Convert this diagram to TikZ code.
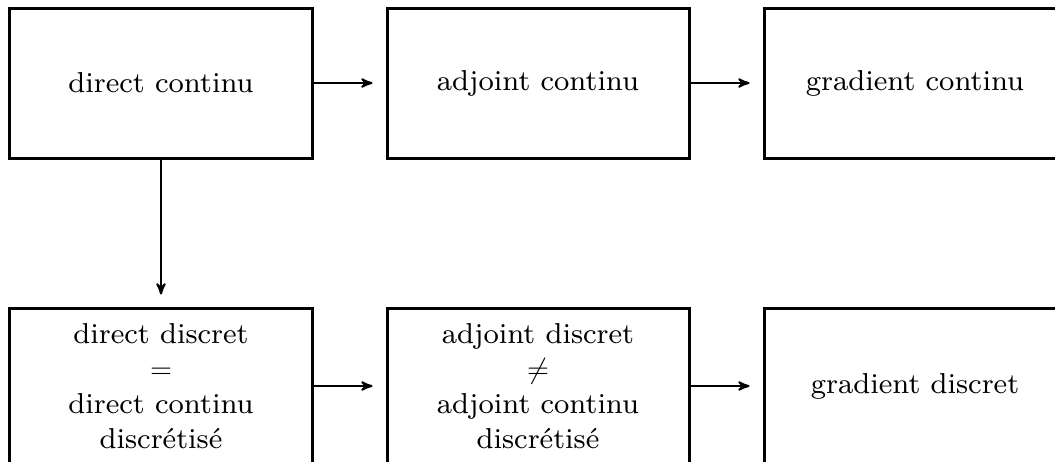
\documentclass[tikz,border=0pt]{standalone}
\usepackage{tikz}
\usetikzlibrary{arrows}

% lettres plus larges (taille optique 8)
\DeclareFontFamily{TU}{lmrw}{}
\DeclareFontShape{TU}{lmrw}{m}{n}{<-> "[lmroman8-regular]:mapping=tex-text"}{}

\tikzset{boite/.style={draw,line width=1.5pt,minimum width=151pt,minimum height=75pt,
		align=center,font=\fontfamily{lmrw}\fontsize{14.4}{17.5}\selectfont},
	boitebas/.style={boite,minimum height=78pt}}

\begin{document}
\begin{tikzpicture}[->,>=stealth',shorten >=6.5pt,auto,node distance=188.5pt,
			line width=1pt]
			\useasboundingbox (-80.5pt,41.5pt) rectangle (447pt,-189pt);
			
			\node[boite] (A)                    {direct continu};
			\node[boite] (B) [right of = A]                    {adjoint continu};
			\node[boite] (C)  [right of = B]                {gradient continu};
			\node[boitebas] (D) [node distance=151.5pt, below of = A]   {direct discret\\$=$\\direct continu\\discrétisé};
			\node[boitebas] (E)     [right of= D]               {adjoint discret\\$\neq$\\adjoint continu\\discrétisé};
			\node[boitebas] (F)     [right of= E]               {gradient discret};
			
			\path (A) edge  node {} (B)
			(B) edge  node {} (C)
			(A) edge  [shorten >=6pt]  node {} (D)
			(D) edge  node {} (E)
			(E) edge  node {} (F);
					\end{tikzpicture}
\end{document}
